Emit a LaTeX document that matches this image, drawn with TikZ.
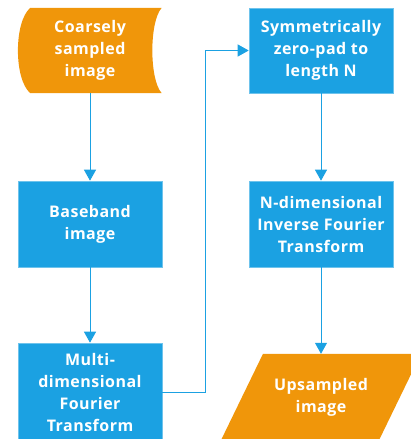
\documentclass[tikz,border=0pt]{standalone}
\usepackage{fontspec}
\setmainfont{Open Sans}
\newfontfamily\lblfont[LetterSpace=3]{Open Sans}
\usetikzlibrary{arrows.meta,backgrounds}
\definecolor{fblue}{HTML}{1BA1E2}
\definecolor{fedge}{HTML}{6EC3EC}
\definecolor{forange}{HTML}{F0960A}
\begin{document}
\begin{tikzpicture}[x=1pt,y=-1pt,
  lbl/.style={inner sep=0pt, text=white, align=center,
    font=\lblfont\bfseries\fontsize{16}{22}\selectfont},
  box/.style={lbl, fill=fblue, draw=fedge, line width=0.6pt,
    minimum width=144pt, minimum height=86pt},
  conn/.style={draw=fblue, line width=1pt, -{Triangle[width=12pt,length=11pt]}}]
\useasboundingbox (0,0) rectangle (411,439);
\node[lbl, minimum width=143pt, minimum height=85pt] (coarse) at (90,50.5) {Coarsely\\sampled\\image};
\node[box] (base) at (90,224) {Baseband\\image};
\node[box, minimum height=98pt] (multi) at (90,392) {Multi-\\dimensional\\Fourier\\Transform};
\node[box, minimum height=85pt] (sym) at (321,50.5) {Symmetrically\\zero-pad to\\length N};
\node[box] (ndim) at (321,224) {N-dimensional\\Inverse Fourier\\Transform};
\node[lbl, minimum width=116pt, minimum height=86pt] (up) at (321,397) {Upsampled\\image};
\begin{scope}[on background layer]
\fill[forange] ([xshift=12pt]coarse.north west) -- (coarse.north east)
  .. controls ([xshift=-12.5pt,yshift=-14pt]coarse.north east) and ([xshift=-12.5pt,yshift=14pt]coarse.south east) .. (coarse.south east)
  -- ([xshift=12pt]coarse.south west)
  .. controls ([xshift=-4.5pt,yshift=14pt]coarse.south west) and ([xshift=-4.5pt,yshift=-14pt]coarse.north west) .. cycle;
\fill[forange] ([xshift=-58pt]up.north) -- ([xshift=100pt]up.north) -- ([xshift=58pt]up.south) -- ([xshift=-100pt]up.south) -- cycle;
\end{scope}
\draw[conn] (coarse.south) -- (base.north);
\draw[conn] (base.south) -- (multi.north);
\draw[conn] (multi.east) -- ++(43,0) |- (sym.west);
\draw[conn] (sym.south) -- (ndim.north);
\draw[conn] (ndim.south) -- (up.north);
\end{tikzpicture}
\end{document}
